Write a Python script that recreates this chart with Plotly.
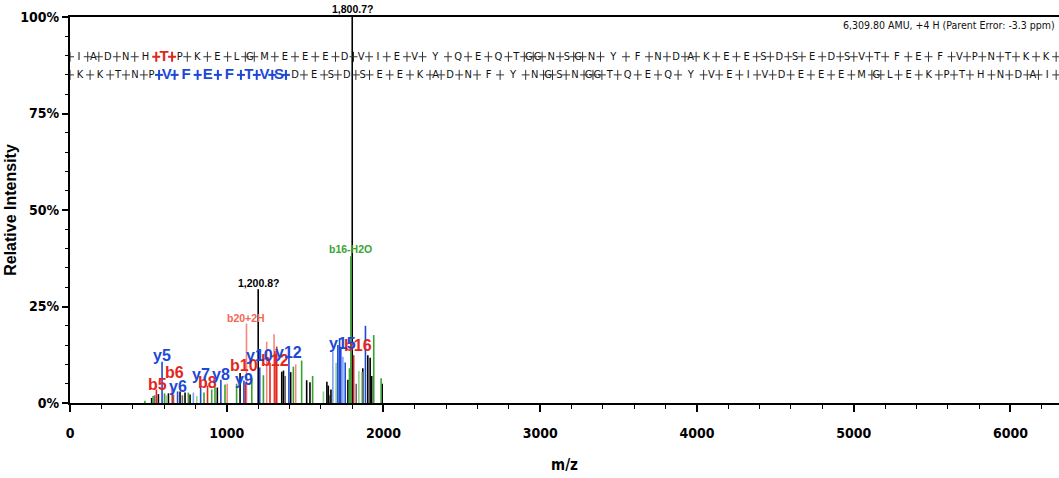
import plotly.graph_objects as go

# ---------------- data ----------------
sequence = "IADNHTPKELGMEEEDVIEVYQEQTGGNSGNYFNDAKEESDSEDSVTFEFVPNTKK"
residue_mass = {"G": 57.02146, "A": 71.03711, "S": 87.03203, "P": 97.05276, "V": 99.06841,
                "T": 101.04768, "L": 113.08406, "I": 113.08406, "N": 114.04293, "D": 115.02694,
                "Q": 128.05858, "K": 128.09496, "E": 129.04259, "M": 131.04049, "H": 137.05891,
                "F": 147.06841, "Y": 163.06333}
b_row_highlight = [5]
y_row_highlight = [5, 6, 7, 8, 9, 10, 11]
parent_text = "6,309.80 AMU, +4 H (Parent Error: -3.3 ppm)"
parent_mass = 6310

y_ion_mz = [587.3, 686.4, 833.5, 962.5, 1109.6, 1210.6, 1396.7, 1709, 1720, 1727.8, 1756, 1885]
y_ion_int = [10.7, 3.0, 5.8, 6.0, 5.8, 9.2, 12.0, 15.0, 16.8, 14.6, 10.5, 20.0]
y_light_mz = [787, 1677, 1741]
y_light_int = [2.7, 13.3, 12.0]
b_ion_mz = [551.3, 652.3, 877.4, 1119.5, 1276, 1307.6, 1319, 1809.8]
b_ion_int = [3.5, 4.0, 4.5, 5.2, 10.4, 13.5, 14.6, 12.4]
b2_mz = [1003, 1126, 1255, 1302, 1440]
b2_int = [5.0, 20.6, 15.9, 17.8, 10.0]
loss_mz = [478, 530, 603, 755, 855, 904, 925, 989, 1063, 1160, 1234, 1425, 1478, 1548,
           1783, 1791.8, 1938, 1985]
loss_int = [0.6, 1.8, 2.5, 2.7, 2.7, 3.5, 4.3, 4.8, 5.0, 6.4, 7.2, 9.4, 11.0, 7.0,
            9.0, 38.0, 17.6, 6.4]
loss_light_mz = [615, 809, 1617, 1698, 1843, 1862]
loss_light_int = [2.0, 1.8, 3.0, 10.4, 8.3, 8.0]
other_mz = [521, 564, 628, 702, 734, 766, 940, 1085, 1200.8, 1351, 1362, 1408, 1510, 1531,
            1639, 1648, 1665, 1773, 1800.7, 1868, 1900, 1915, 1925, 1992]
other_int = [1.3, 2.3, 2.5, 3.0, 2.7, 2.2, 4.0, 7.8, 29.5, 8.1, 8.4, 8.0, 5.9, 5.4,
             5.5, 4.5, 3.5, 6.0, 100, 9.0, 12.4, 11.7, 7.0, 5.0]
gray_mz = [540, 660, 717, 1373, 1656, 1826]
gray_int = [2.0, 2.2, 2.0, 7.0, 2.0, 5.0]

ion_labels = ["b5", "b6", "b8", "b10", "b12", "b16", "y5", "y6", "y7", "y8", "y9", "y10", "y12", "y15"]
ion_label_mz = [551.3, 652.3, 877.4, 1119.5, 1307.6, 1809.8, 587.3, 686.4, 833.5, 962.5,
                1109.6, 1210.6, 1396.7, 1727.8]
extra_labels = ["b20+2H", "b16-H2O", "1,200.8?"]
extra_label_mz = [1126, 1791.8, 1200.8]

# ---------------- style / placement ----------------
ion_label_y = [4.7, 8.0, 5.2, 9.8, 11.1, 14.8, 12.4, 4.4, 7.5, 7.3, 6.2, 12.2, 13.2, 15.3]
ion_label_dx = [1, 2, 0, -1, 0, 4, 0, 0, 0, 0, 0, 0, 0, 2]
extra_label_y = [22.0, 39.8, 31.0]
extra_label_color = ["#f36452", "#3aa233", "#000000"]

L, R, T, B = 70, 0, 17, 75
W, H = 1059, 478
px_per_da = (W - L - R) / parent_mass
px_per_pct = (H - T - B) / 100.0

BLUE = "#1c49d6"
RED = "#e3261c"
NARROW = "Liberation Sans Narrow, DejaVu Sans Condensed, Arial Narrow, Liberation Sans, Arial"

fig = go.Figure()


def stick_trace(mz, inten, color, width=1.6):
    xs, ys = [], []
    for m, i in zip(mz, inten):
        xs += [m, m, None]
        ys += [0, i, None]
    fig.add_trace(go.Scatter(x=xs, y=ys, mode="lines", line=dict(color=color, width=width),
                             hoverinfo="skip", showlegend=False))


stick_trace(gray_mz, gray_int, "#6a6a6a")
stick_trace(other_mz, other_int, "#000000")
stick_trace(loss_light_mz, loss_light_int, "#8fd08b")
stick_trace(loss_mz, loss_int, "#37a230")
stick_trace(b2_mz, b2_int, "#f6897a")
stick_trace(y_light_mz, y_light_int, "#7ea3f2")
stick_trace(b_ion_mz, b_ion_int, RED)
stick_trace(y_ion_mz, y_ion_int, BLUE)

# ---------------- sequence rows ----------------


def bounds_of(seq):
    b = [0.0]
    for r in seq:
        b.append(b[-1] + residue_mass[r])
    return b


def draw_row(seq, row_y, highlight, hcolor):
    bnd = bounds_of(seq)
    mids = [(bnd[i] + bnd[i + 1]) / 2 for i in range(len(seq))]
    norm_idx = [i for i in range(len(seq)) if i not in highlight]
    fig.add_trace(go.Scatter(x=[mids[i] for i in norm_idx], y=[row_y] * len(norm_idx),
                             mode="text", text=[seq[i] for i in norm_idx],
                             textfont=dict(family=NARROW, size=11, color="#111"),
                             hoverinfo="skip", showlegend=False, cliponaxis=False))
    fig.add_trace(go.Scatter(x=[mids[i] for i in highlight], y=[row_y] * len(highlight),
                             mode="text", text=[seq[i] for i in highlight],
                             textfont=dict(family="Liberation Sans, Arial", size=15,
                                           color=hcolor, weight="bold"),
                             hoverinfo="skip", showlegend=False, cliponaxis=False))
    hb = set()
    for i in highlight:
        hb.add(i)
        hb.add(i + 1)
    dv = 5 / px_per_pct
    dh = 4 / px_per_da
    for group, col, wd in ((False, "#333333", 1), (True, hcolor, 2)):
        xs, ys = [], []
        for k, xb in enumerate(bnd):
            if (k in hb) != group:
                continue
            xs += [xb, xb, None, xb - dh, xb + dh, None]
            ys += [row_y - dv, row_y + dv, None, row_y, row_y, None]
        fig.add_trace(go.Scatter(x=xs, y=ys, mode="lines", line=dict(color=col, width=wd),
                                 hoverinfo="skip", showlegend=False, cliponaxis=False))


draw_row(sequence, 89.7, b_row_highlight, RED)
draw_row(sequence[::-1], 85.0, y_row_highlight, BLUE)

# ---------------- annotations ----------------
ann = []
for lab, m, yy, dx in zip(ion_labels, ion_label_mz, ion_label_y, ion_label_dx):
    ann.append(dict(x=m, y=yy, xref="x", yref="y", text=lab, showarrow=False, xshift=dx,
                    xanchor="center", yanchor="middle",
                    font=dict(family="Liberation Sans, Arial", size=16, weight="bold",
                              color=BLUE if lab.startswith("y") else RED)))
for lab, m, yy, c in zip(extra_labels, extra_label_mz, extra_label_y, extra_label_color):
    ann.append(dict(x=m, y=yy, xref="x", yref="y", text=lab, showarrow=False,
                    xanchor="center", yanchor="middle",
                    font=dict(family="Liberation Sans, Arial", size=10.5, weight="bold", color=c)))
ann.append(dict(x=1800.7, y=100, xref="x", yref="y", text="1,800.7?", showarrow=False,
                xanchor="center", yanchor="bottom", yshift=0,
                font=dict(family="Liberation Sans, Arial", size=10.5, weight="bold", color="#000")))
ann.append(dict(x=1, y=97.8, xref="paper", yref="y", text=parent_text, showarrow=False,
                xanchor="right", yanchor="middle", xshift=-2,
                font=dict(family=NARROW, size=10.5, color="#111")))

axis_font = dict(family=NARROW, size=14, weight="bold", color="#000")

fig.update_layout(
    width=W, height=H,
    margin=dict(l=L, r=R, t=T, b=B, autoexpand=False),
    paper_bgcolor="white", plot_bgcolor="white",
    showlegend=False,
    annotations=ann,
    xaxis=dict(range=[0, parent_mass], showgrid=False, zeroline=False, automargin=False,
               showline=True, linewidth=2, linecolor="#000", mirror=True,
               tickmode="linear", tick0=0, dtick=1000, ticks="outside", ticklen=7,
               tickwidth=1.5, tickcolor="#000", tickfont=axis_font, ticklabelstandoff=9,
               minor=dict(dtick=200, ticks="outside", ticklen=4, tickwidth=1, tickcolor="#000"),
               title=dict(text="m/z", font=dict(family=NARROW, size=15, weight="bold", color="#000"),
                          standoff=20)),
    yaxis=dict(range=[0, 100], showgrid=False, zeroline=False, automargin=False,
               showline=True, linewidth=2, linecolor="#000",
               tickmode="array", tickvals=[0, 25, 50, 75, 100],
               ticktext=["0%", "25%", "50%", "75%", "100%"],
               ticks="outside", ticklen=6, tickwidth=1.5, tickcolor="#000",
               tickfont=axis_font,
               minor=dict(dtick=5, ticks="outside", ticklen=3, tickwidth=1, tickcolor="#000"),
               title=dict(text="Relative Intensity",
                          font=dict(family="Liberation Sans, Arial", size=16, weight="bold",
                                    color="#000"),
                          standoff=0)),
)

# remove the browser's default 8px body margin so the figure fills the window exactly
fig.write_html("out.html", config={"displayModeBar": False},
               post_script="document.body.style.margin='0';document.body.style.overflow='hidden';")
